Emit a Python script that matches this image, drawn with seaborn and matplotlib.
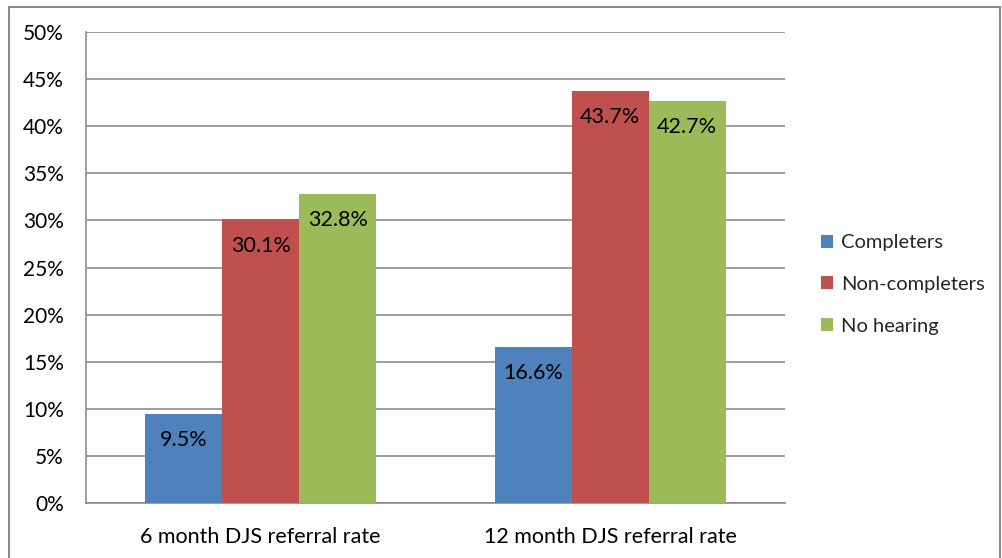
import matplotlib
matplotlib.use("Agg")
import matplotlib.pyplot as plt
from matplotlib.patches import Rectangle
import seaborn as sns
import pandas as pd

categories = ["6 month DJS referral rate", "12 month DJS referral rate"]
groups = ["Completers", "Non-completers", "No hearing"]
completers = [9.5, 16.6]
non_completers = [30.1, 43.7]
no_hearing = [32.8, 42.7]
colors = ["#4F81BD", "#C0504D", "#9BBB59"]
y_ticks = [0, 5, 10, 15, 20, 25, 30, 35, 40, 45, 50]

rows = []
for name, vals in zip(groups, [completers, non_completers, no_hearing]):
    for cat, v in zip(categories, vals):
        rows.append({"category": cat, "group": name, "rate": v})
df = pd.DataFrame(rows)

sns.set_theme(style="white")
plt.rcParams["font.family"] = ["Lato", "DejaVu Sans"]

fig = plt.figure(figsize=(10.03, 5.58), dpi=100)
ax = fig.add_axes([86 / 1003, 1 - 503 / 558, 699 / 1003, 471 / 558])

sns.barplot(data=df, x="category", y="rate", hue="group", order=categories,
            hue_order=groups, palette=colors, width=0.66, saturation=1,
            edgecolor="none", linewidth=0, ax=ax, zorder=3)

ax.set_ylim(0, 50)
ax.set_yticks(y_ticks)
ax.set_yticklabels([f"{t}%" for t in y_ticks], fontsize=15, color="#000000")
ax.tick_params(axis="x", labelsize=15.5, colors="#000000", pad=17, length=0)
ax.tick_params(axis="y", pad=16, length=0)
ax.set_xlabel("")
ax.set_ylabel("")
ax.yaxis.grid(True, color="#8C8C8C", linewidth=1.2, zorder=0)
ax.set_axisbelow(True)
for side in ["top", "right"]:
    ax.spines[side].set_visible(False)
for side in ["left", "bottom"]:
    ax.spines[side].set_color("#8C8C8C")
    ax.spines[side].set_linewidth(1.2)

for container in ax.containers:
    labels = [f"{b.get_height():.1f}%" for b in container]
    ax.bar_label(container, labels=labels, padding=-26, fontsize=15.5,
                 color="#000000", zorder=4)

leg = ax.legend(loc="center left", bbox_to_anchor=(1.025, 0.464), frameon=False,
                fontsize=14.5, handlelength=0.6, handleheight=0.6,
                handletextpad=0.4, labelspacing=1.22)

# thin frame around the whole chart area
fig.patches.append(Rectangle((9.5 / 1003, -0.05), 991 / 1003, 1 - 6.5 / 558 + 0.05,
                             transform=fig.transFigure, fill=False,
                             edgecolor="#8C8C8C", linewidth=1.5))

fig.savefig("out.png", dpi=100, facecolor="white")
